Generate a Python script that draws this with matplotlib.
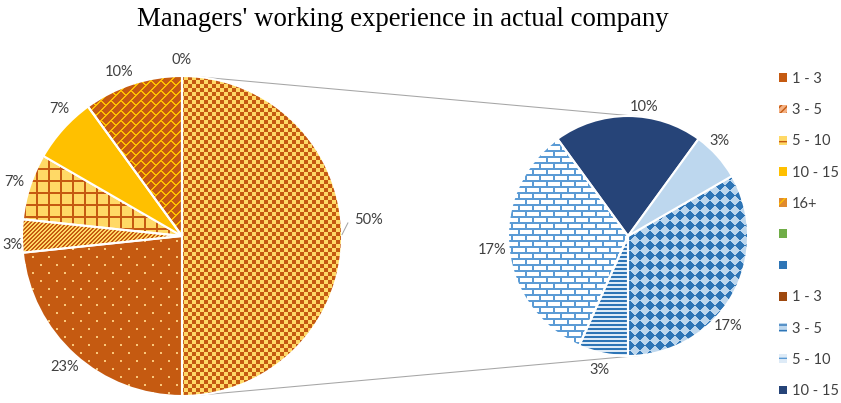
import numpy as np
import matplotlib.pyplot as plt
from matplotlib.colors import to_rgb
from matplotlib.patches import Patch

W, H = 841, 403

title = "Managers' working experience in actual company"

# first pie, clockwise from the top (first slice is the part split off into the second pie)
main_counts = [15, 7, 1, 2, 2, 3, 0]
main_fills = ['checker', 'dots', 'diag', 'grid', '#FFC000', 'bricks_diag', '#C55A11']

# second pie, counter-clockwise
sub_counts = [3, 5, 1, 5, 1]
sub_fills = ['#264478', 'bricks', 'hlines', 'diamonds', '#BDD7EE']

legend_labels = ['1 - 3', '3 - 5', '5 - 10', '10 - 15', '16+', '', '',
                 '1 - 3', '3 - 5', '5 - 10', '10 - 15']

text_col = '#404040'
lbl_font = dict(fontsize=10.5, color=text_col, family='Lato')

# pixel textures like the Excel pattern fills
yy, xx = np.mgrid[0:H, 0:W]
patterns = {
    'checker': ((xx // 4 + yy // 4) % 2 == 0, '#C55A11', '#FFD966'),
    'dots': ((yy % 8 < 2) & ((xx + (yy // 8 % 2) * 8) % 16 < 2), '#F9C77A', '#C55A11'),
    'diag': ((xx + yy) % 4 < 2, '#C55A11', '#FFD966'),
    'grid': ((xx % 12 < 2) | (yy % 12 < 2), '#C55A11', '#FFD966'),
    'bricks_diag': (((xx + yy) % 10 < 2) |
                    ((xx - yy + ((xx + yy) // 10 % 2) * 10) % 20 < 2), '#FFC000', '#C55A11'),
    'bricks': ((yy % 6 < 2) | ((xx + (yy // 6 % 2) * 7) % 14 < 2), '#5B9BD5', '#FFFFFF'),
    'diamonds': (((xx + yy) // 10 + (xx - yy) // 10) % 2 == 0, '#BDD7EE', '#2E75B6'),
    'hlines': (yy % 4 < 2, '#2E75B6', '#DEEBF7'),
}

fig = plt.figure(figsize=(W / 100, H / 100), dpi=100)
ax = fig.add_axes([0, 0, 1, 1])


def fill_wedges(wedges, fills):
    for w, f in zip(wedges, fills):
        if f in patterns:
            mask, fg, bg = patterns[f]
            img = np.empty((H, W, 3))
            img[:] = to_rgb(bg)
            img[mask] = to_rgb(fg)
            im = ax.imshow(img, extent=(0, W, 0, H), origin='upper',
                           interpolation='nearest', zorder=0.5)
            im.set_clip_path(w)
            w.set_facecolor('none')
        else:
            w.set_facecolor(f)


c1, r1 = np.array([182.0, 167.0]), 160
c2, r2 = np.array([628.0, 167.0]), 120

total = sum(main_counts)
wedge_kw = dict(edgecolor='white', linewidth=1.5)

w1, _, t1 = ax.pie(main_counts, center=c1, radius=r1, startangle=90, counterclock=False,
                   autopct=lambda p: f'{p:.0f}%', pctdistance=1.1,
                   wedgeprops=wedge_kw, textprops=lbl_font)
fill_wedges(w1, main_fills)

w2, _, t2 = ax.pie(sub_counts, center=c2, radius=r2, startangle=54,
                   autopct=lambda p: f'{p * sum(sub_counts) / total:.0f}%', pctdistance=1.14,
                   wedgeprops=wedge_kw, textprops=lbl_font)
fill_wedges(w2, sub_fills)


def polar(c, r, deg):
    a = np.radians(deg)
    return c + r * np.array([np.cos(a), np.sin(a)])


# label nudges, the way Excel placed them
t1[0].set_position(polar(c1, r1 * 1.17, 5))
lead = np.array([polar(c1, r1 * 1.0, 0.5), polar(c1, r1 * 1.04, 4.5)])
ax.plot(lead[:, 0], lead[:, 1], color='#A6A6A6', lw=0.75)
t1[2].set_position(polar(c1, r1 * 1.06, 183))
t1[4].set_position(polar(c1, r1 * 1.1, 134))
t1[5].set_position(polar(c1, r1 * 1.1, 111))
t2[0].set_position(polar(c2, r2 * 1.08, 83))
t2[4].set_position(polar(c2, r2 * 1.1, 46))
t2[3].set_position(polar(c2, r2 * 1.12, -42))

# connector lines = outer tangents of the two circles
phi = np.arcsin((r1 - r2) / (c2[0] - c1[0]))
for s in (1, -1):
    n = np.array([np.sin(phi), s * np.cos(phi)])
    p, q = c1 + r1 * n, c2 + r2 * n
    ax.plot([p[0], q[0]], [p[1], q[1]], color='#A6A6A6', lw=0.75, zorder=0.4)

ax.set_xlim(0, W)
ax.set_ylim(0, H)
ax.set_aspect('equal')
ax.axis('off')

fig.text(403 / W, 1 - 20 / H, title, ha='center', va='center',
         fontsize=19.3, family='Liberation Serif', color='black')

handles = [
    Patch(facecolor='#C55A11', lw=0),
    Patch(facecolor='#F4B183', edgecolor='#C55A11', hatch='/////', lw=0),
    Patch(facecolor='#FFD966', edgecolor='#C55A11', hatch='-', lw=0),
    Patch(facecolor='#FFC000', lw=0),
    Patch(facecolor='#E08A2E', edgecolor='#FFC000', hatch='//', lw=0),
    Patch(facecolor='#70AD47', lw=0),
    Patch(facecolor='#2E75B6', lw=0),
    Patch(facecolor='#9E480E', lw=0),
    Patch(facecolor='#BDD7EE', edgecolor='#2E75B6', hatch='---', lw=0),
    Patch(facecolor='#DEEBF7', edgecolor='#5B9BD5', hatch='-', lw=0),
    Patch(facecolor='#264478', lw=0),
]
ax.legend(handles, legend_labels, loc='upper left', bbox_to_anchor=(779, H - 72),
          bbox_transform=ax.transData, frameon=False, borderpad=0, borderaxespad=0,
          handlelength=0.55, handleheight=0.55, handletextpad=0.35, labelspacing=1.18,
          prop=dict(family='Lato', size=10.5), labelcolor=text_col)

fig.savefig('out.png', dpi=100)
